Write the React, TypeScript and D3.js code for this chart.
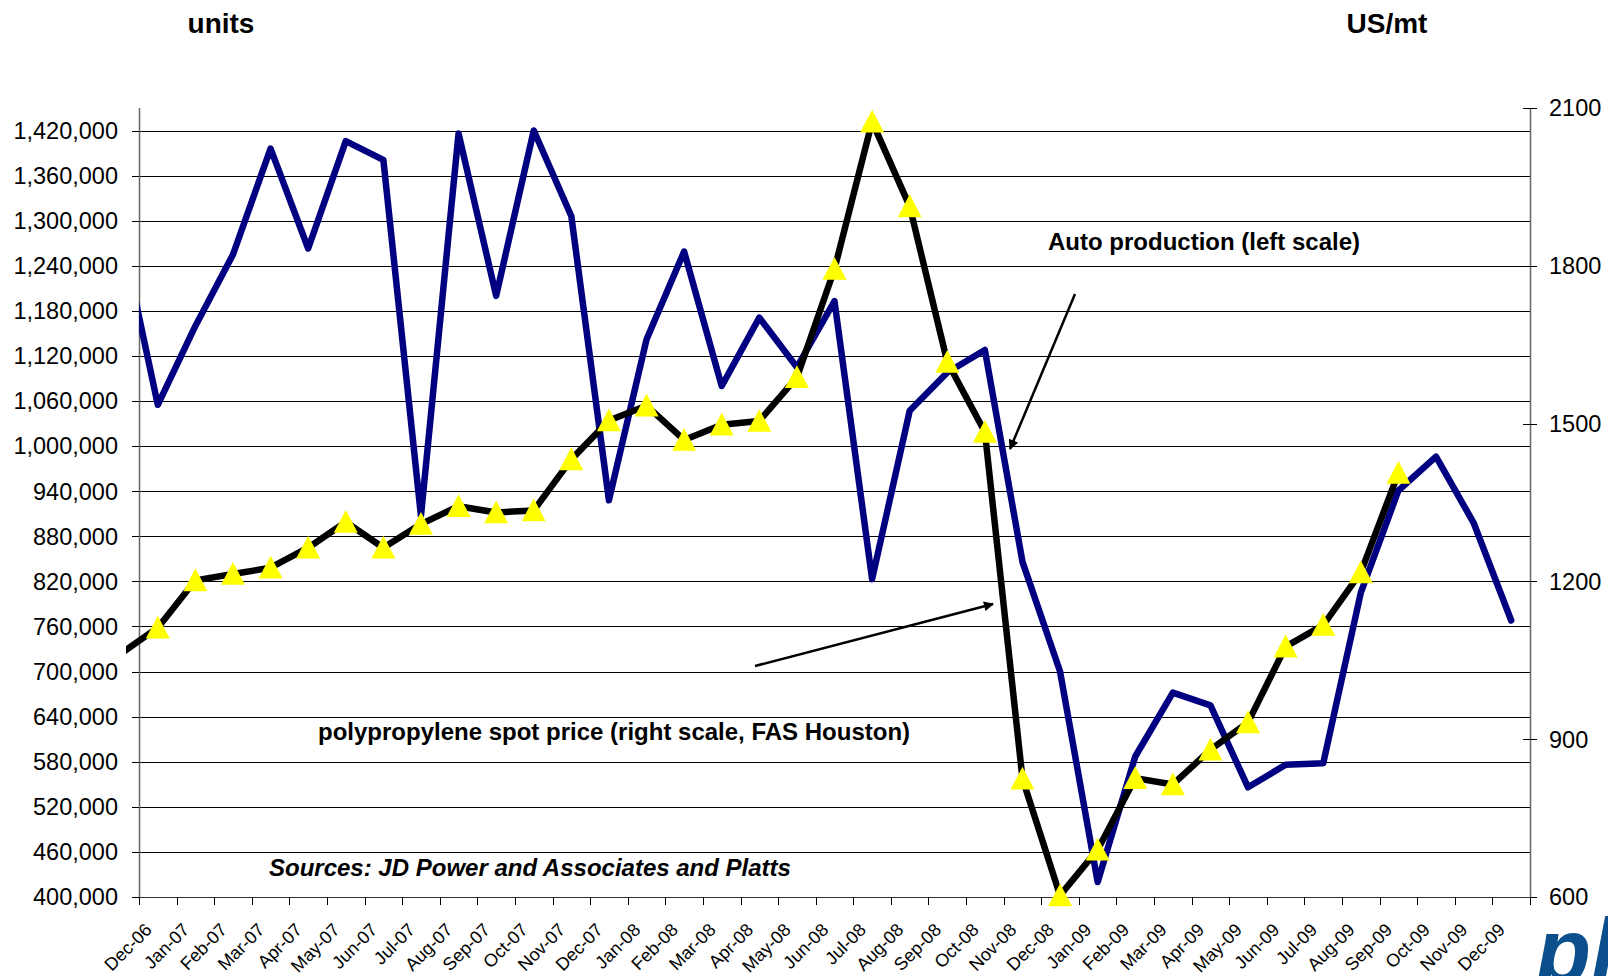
import React from "react";
import * as d3 from "d3";

// Categories (Nov-06 is a lead-in point that sits just left of the plot and is clipped)
const months = [
  "Nov-06", "Dec-06", "Jan-07", "Feb-07", "Mar-07", "Apr-07", "May-07", "Jun-07", "Jul-07", "Aug-07",
  "Sep-07", "Oct-07", "Nov-07", "Dec-07", "Jan-08", "Feb-08", "Mar-08", "Apr-08", "May-08", "Jun-08",
  "Jul-08", "Aug-08", "Sep-08", "Oct-08", "Nov-08", "Dec-08", "Jan-09", "Feb-09", "Mar-09", "Apr-09",
  "May-09", "Jun-09", "Jul-09", "Aug-09", "Sep-09", "Oct-09", "Nov-09", "Dec-09",
];
const axisCategories = months.slice(1);

// Auto production (units, left scale)
const autoProduction = [
  1290000, 1055000, 1160000, 1255000, 1396000, 1263000, 1406000, 1381000, 907000, 1416000,
  1200000, 1420000, 1306000, 928000, 1142000, 1259000, 1080000, 1171000, 1105000, 1193000,
  823000, 1047000, 1098000, 1128000, 846000, 700000, 420000, 587000, 672000, 655000,
  546000, 576000, 578000, 805000, 941000, 986000, 898000, 768000,
];

// Polypropylene spot price (US/mt, right scale), Nov-06 .. Sep-09
const ppPrice = [
  1062, 1112, 1202, 1214, 1226, 1264, 1313, 1264, 1309, 1343,
  1331, 1335, 1432, 1506, 1534, 1469, 1498, 1505, 1588, 1794,
  2074, 1913, 1617, 1484, 825, 603, 690, 826, 814, 880,
  932, 1076, 1117, 1217, 1406,
];

const leftTicks = d3.range(400000, 1420001, 60000);
const rightTicks = [600, 900, 1200, 1500, 1800, 2100];

const FONT = "'Liberation Sans', Arial, Helvetica, sans-serif";

export default function App() {
  const W = 1608, H = 976;
  const L = 139, R = 1530, T = 108, B = 897;

  const x = d3.scaleLinear().domain([-0.5, axisCategories.length - 0.5]).range([L, R]);
  const yL = d3.scaleLinear().domain([400000, 1450000]).range([B, T]);
  const yR = d3.scaleLinear().domain([600, 2100]).range([B, T]);
  const fmt = d3.format(",");

  const autoLine = d3.line<number>().x((_, i) => x(i - 1)).y((d) => yL(d));
  const ppLine = d3.line<number>().x((_, i) => x(i - 1)).y((d) => yR(d));

  const tri = (cx: number, cy: number) => {
    const s = 12;
    return `M${cx},${cy - s} L${cx + s},${cy + s * 0.9} L${cx - s},${cy + s * 0.9} Z`;
  };

  const crisp = (v: number) => Math.round(v) + 0.5;

  return (
    <svg width={W} height={H} viewBox={`0 0 ${W} ${H}`}
      style={{ position: "absolute", left: 0, top: 0, display: "block", background: "#fff" }}
      fontFamily={FONT}>
      <defs>
        <clipPath id="clipAuto"><rect x={L} y={0} width={R - L} height={H} /></clipPath>
        <clipPath id="clipPP"><rect x={126} y={0} width={R - 126} height={H} /></clipPath>
        <marker id="arrowHead" viewBox="0 0 10 10" refX="9" refY="5" markerWidth="14" markerHeight="10"
          orient="auto" markerUnits="userSpaceOnUse">
          <path d="M0,0 L10,5 L0,10 Z" fill="#000" />
        </marker>
      </defs>
      <rect x={0} y={0} width={W} height={H} fill="#fff" />

      {/* axis titles */}
      <text x={221} y={33} fontSize={28} fontWeight="bold" textAnchor="middle">units</text>
      <text x={1387} y={33} fontSize={28} fontWeight="bold" textAnchor="middle">US/mt</text>

      {/* gridlines */}
      {leftTicks.map((t) => (
        <line key={"g" + t} x1={L} x2={R} y1={crisp(yL(t))} y2={crisp(yL(t))} stroke="#000" strokeWidth={1} />
      ))}

      {/* left axis */}
      <line x1={crisp(L)} x2={crisp(L)} y1={T} y2={B} stroke="#666" strokeWidth={1.5} />
      {leftTicks.map((t) => (
        <g key={"l" + t}>
          <line x1={L - 7} x2={L} y1={crisp(yL(t))} y2={crisp(yL(t))} stroke="#000" strokeWidth={1} />
          <text x={118} y={yL(t) + 8.3} fontSize={23.5} textAnchor="end" fill="#000">{fmt(t)}</text>
        </g>
      ))}

      {/* right axis */}
      <line x1={crisp(R)} x2={crisp(R)} y1={T} y2={B} stroke="#666" strokeWidth={1.5} />
      {rightTicks.map((t) => (
        <g key={"r" + t}>
          <line x1={R - 7} x2={R + 7} y1={crisp(yR(t))} y2={crisp(yR(t))} stroke="#000" strokeWidth={1} />
          <text x={1549} y={yR(t) + 8.3} fontSize={23.5} textAnchor="start" fill="#000">{t}</text>
        </g>
      ))}

      {/* x axis */}
      <line x1={L} x2={R} y1={crisp(B)} y2={crisp(B)} stroke="#333" strokeWidth={1.2} />
      {d3.range(axisCategories.length + 1).map((i) => (
        <line key={"xt" + i} x1={crisp(x(i - 0.5))} x2={crisp(x(i - 0.5))} y1={B} y2={B + 8} stroke="#000" strokeWidth={1} />
      ))}
      {axisCategories.map((c, i) => (
        <text key={"xl" + c} transform={`translate(${x(i) - 5},${B + 34}) rotate(-45)`}
          fontSize={18} textAnchor="end" fill="#000">{c}</text>
      ))}

      {/* series */}
      <path d={autoLine(autoProduction) || ""} fill="none" stroke="#000080" strokeWidth={6.5}
        strokeLinejoin="round" strokeLinecap="round" clipPath="url(#clipAuto)" />
      <path d={ppLine(ppPrice) || ""} fill="none" stroke="#000" strokeWidth={6.5}
        strokeLinejoin="round" clipPath="url(#clipPP)" />
      {ppPrice.slice(1).map((v, i) => (
        <path key={"m" + i} d={tri(x(i), yR(v))} fill="#FFFF00" />
      ))}

      {/* annotations */}
      <text x={1048} y={250} fontSize={24} fontWeight="bold">Auto production (left scale)</text>
      <line x1={1075} y1={294} x2={1010} y2={449} stroke="#000" strokeWidth={2.5} markerEnd="url(#arrowHead)" />
      <text x={318} y={740} fontSize={24} fontWeight="bold">polypropylene spot price (right scale, FAS Houston)</text>
      <line x1={755} y1={666} x2={993} y2={604} stroke="#000" strokeWidth={2.5} markerEnd="url(#arrowHead)" />
      <text x={269} y={876} fontSize={24} fontWeight="bold" fontStyle="italic">Sources: JD Power and Associates and Platts</text>

      {/* logo fragment */}
      <text x={1536} y={982} fontSize={90} fontWeight="bold" fontStyle="italic" fill="#0b4f8c">pl</text>
    </svg>
  );
}
